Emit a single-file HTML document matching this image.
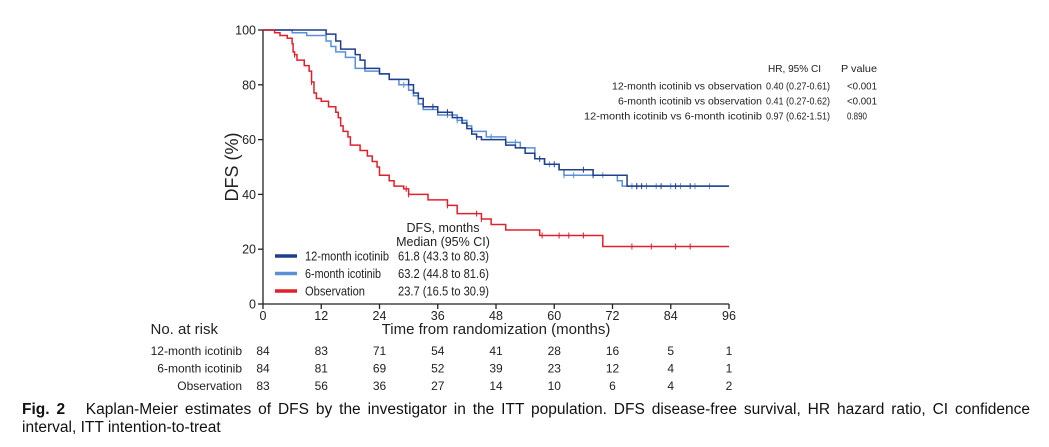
<!DOCTYPE html><html><head><meta charset="utf-8"><style>
body{margin:0;background:#fff;width:1049px;height:447px;overflow:hidden;font-family:"Liberation Sans",Arial,sans-serif}
.cap{position:absolute;left:22px;top:401px;width:1008px;font-size:15.5px;line-height:18px;text-align:justify;text-align-last:left;color:#111}
</style></head><body>
<svg id="s" width="1049" height="447" style="position:absolute;left:0;top:0" font-family="Liberation Sans, Arial, sans-serif"></svg>
<div class="cap"><b>Fig. 2</b>&nbsp;&nbsp; Kaplan-Meier estimates of DFS by the investigator in the ITT population. DFS disease-free survival, HR hazard ratio, CI confidence interval, ITT intention-to-treat</div>
<script>
const X0=263,X1=729,Y0=304,Y1=30;
const X=m=>X0+m*(X1-X0)/96, Y=p=>Y0-p*(Y0-Y1)/100;
let h='';
h+=`<line x1="${X0}" y1="${Y1}" x2="${X0}" y2="${Y0}" stroke="#222" stroke-width="1.3"/>`;
h+=`<line x1="${X0}" y1="${Y0}" x2="${X1}" y2="${Y0}" stroke="#222" stroke-width="1.3"/>`;
for(let p=0;p<=100;p+=20){h+=`<line x1="${X0-5}" x2="${X0}" y1="${Y(p)}" y2="${Y(p)}" stroke="#222" stroke-width="1.3"/><text x="${X0-7}" y="${Y(p)+4.5}" font-size="12.5" text-anchor="end" fill="#222">${p}</text>`;}
for(let m=0;m<=96;m+=12){h+=`<line x1="${X(m)}" x2="${X(m)}" y1="${Y0}" y2="${Y0+5}" stroke="#222" stroke-width="1.3"/><text x="${X(m)}" y="${Y0+16}" font-size="12.5" text-anchor="middle" fill="#222">${m}</text>`;}
function path(st,col,cens){let d=`M${X(0)},${Y(100)}`;for(const [m,p] of st){d+=`H${X(m)}V${Y(p)}`;}d+=`H${X(96)}`;let s=`<path d="${d}" fill="none" stroke="${col}" stroke-width="1.5"/>`;
for(const m of cens){let p=100;for(const [mm,pp] of st){if(mm<=m)p=pp;}s+=`<line x1="${X(m)}" x2="${X(m)}" y1="${Y(p)-3}" y2="${Y(p)+3}" stroke="${col}" stroke-width="1"/>`;}return s;}
const obs=[[2.4,99],[3.5,98],[5,97],[6,95],[6.2,92],[6.5,91],[7,89],[8.5,87],[9.5,85],[10,81],[10.5,77],[11,75],[12,74],[13.5,72],[15,70],[15.5,68],[16,65],[16.5,63],[17.5,61],[18,58],[20,56],[21.5,54],[22.5,52],[23.5,50],[24,47],[26,45],[27,43],[29,42],[30,40],[34,38],[38,36],[40,33],[45,31],[47,29],[50,27],[57,25],[70,21]];
const m6=[[6,99],[9,98],[13,96],[14,94],[15,92],[17,90],[19,86],[21,85],[24,84],[26,82],[28,80],[30,78],[31,76],[32,73],[33,71],[36,69],[40,67],[42,65],[43,63],[46,61],[50,59],[53,57],[56,53],[58,51],[61,49],[62,47],[73,45],[74,43]];
const m12=[[13,98.5],[15,96],[16,93],[19,91],[20,89],[21,86],[24,84],[26,82],[30,80],[31,77],[32,75],[33,72],[36,70],[39,68],[41,66],[42,64],[43,62],[44,61],[45,60],[50,58],[52,57],[54,55],[56,53],[58,51],[61,49],[68,47],[75,43]];
h+=path(m6,'#5b8fd6',[29,38,40,47,52,59,62,64,70,76,77,79,81,84,86,89,92]);
h+=path(m12,'#1f3f8c',[35,38,44,57,60,66,68,77,78,82,85,88]);
h+=path(obs,'#e0202c',[6.5,10,29.5,30,38,44,45,57.5,61,63,66,76,80,85,88]);
const lg=[['#1f3f8c','12-month icotinib','61.8 (43.3 to 80.3)',84],['#5b8fd6','6-month icotinib','63.2 (44.8 to 81.6)',76],['#e0202c','Observation','23.7 (16.5 to 30.9)',60]];
h+=`<text x="443" y="232" font-size="12.5" text-anchor="middle" fill="#222">DFS, months</text><text x="443" y="246" font-size="12.5" text-anchor="middle" fill="#222">Median (95% CI)</text>`;
lg.forEach((l,i)=>{const y=256+i*17.5;h+=`<line x1="275" x2="297" y1="${y}" y2="${y}" stroke="${l[0]}" stroke-width="3.5"/><text x="305" y="${y+4.5}" font-size="12.5" fill="#222" textLength="${l[3]}" lengthAdjust="spacingAndGlyphs">${l[1]}</text><text x="398" y="${y+4.5}" font-size="12.5" fill="#222" textLength="91" lengthAdjust="spacingAndGlyphs">${l[2]}</text>`;});
h+=`<text transform="translate(238,167) rotate(-90)" font-size="18" text-anchor="middle" fill="#222">DFS (%)</text>`;
h+=`<text x="496" y="334" font-size="15" text-anchor="middle" fill="#222">Time from randomization (months)</text>`;
h+=`<text x="218" y="334" font-size="15" text-anchor="end" fill="#222">No. at risk</text>`;
const T=(x,y,t,L)=>`<text x="${x}" y="${y}" font-size="10.5" fill="#222" textLength="${L}" lengthAdjust="spacingAndGlyphs">${t}</text>`;
h+=T(768,72,'HR, 95% CI',53)+T(841,72,'P value',36);
const hr=[[612,'12-month icotinib vs observation',150,'0.40 (0.27-0.61)','&lt;0.001'],[618,'6-month icotinib vs observation',144,'0.41 (0.27-0.62)','&lt;0.001'],[584,'12-month icotinib vs 6-month icotinib',178,'0.97 (0.62-1.51)','0.890']];
hr.forEach((r,i)=>{const y=89.5+i*15;h+=T(r[0],y,r[1],r[2])+T(766,y,r[3],64)+T(847,y,r[4],i<2?30:20);});
const risk=[['12-month icotinib',[84,83,71,54,41,28,16,5,1]],['6-month icotinib',[84,81,69,52,39,23,12,4,1]],['Observation',[83,56,36,27,14,10,6,4,2]]];
risk.forEach((r,i)=>{const y=355+i*17.5;h+=`<text x="242" y="${y}" font-size="12" text-anchor="end" fill="#222">${r[0]}</text>`;r[1].forEach((v,k)=>{h+=`<text x="${X(k*12)}" y="${y}" font-size="12" text-anchor="middle" fill="#222">${v}</text>`;});});
document.getElementById('s').innerHTML=h;
</script>
</body></html>
